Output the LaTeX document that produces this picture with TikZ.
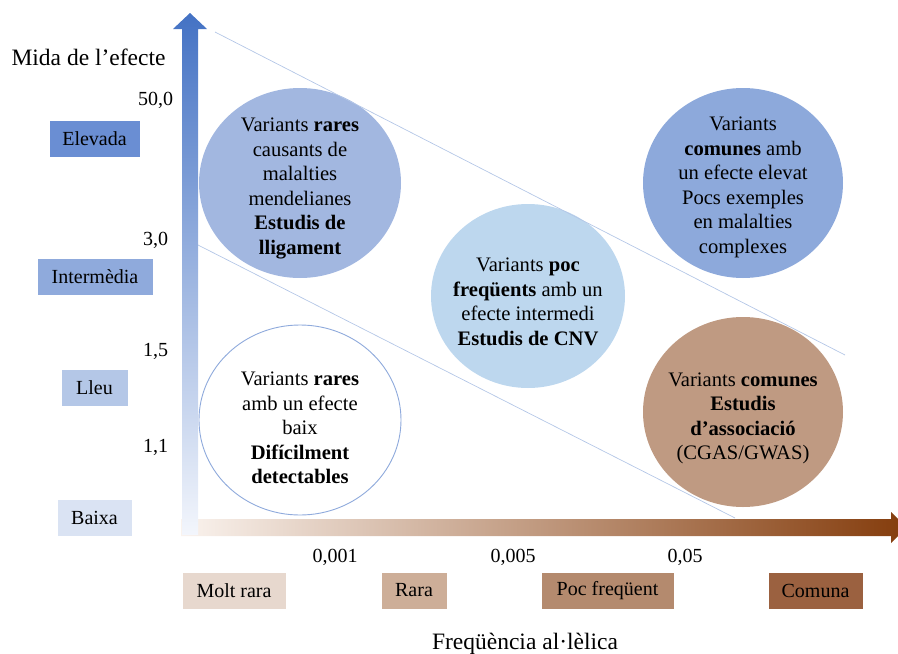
\documentclass[tikz,border=0pt]{standalone}
\usepackage{fontspec}
\setmainfont{Liberation Serif}
\definecolor{arrowblue}{HTML}{4472C4}
\definecolor{arrowbluelight}{HTML}{F3F6FC}
\definecolor{arrowbrown}{HTML}{843C0C}
\definecolor{arrowbrownlight}{HTML}{FAF3EE}
\definecolor{cElevada}{HTML}{6A8ED3}
\definecolor{cInter}{HTML}{8FAADC}
\definecolor{cLleu}{HTML}{B4C7E7}
\definecolor{cBaixa}{HTML}{DAE3F3}
\definecolor{cMolt}{HTML}{E7D8CE}
\definecolor{cRara}{HTML}{CDAE98}
\definecolor{cPoc}{HTML}{B48A6E}
\definecolor{cComuna}{HTML}{9B6140}
\definecolor{bTL}{HTML}{A2B7E0}
\definecolor{bTR}{HTML}{8DA9DB}
\definecolor{bMid}{HTML}{BDD7EE}
\definecolor{bBR}{HTML}{BF9A82}
\definecolor{bOutline}{HTML}{8FAADC}
\definecolor{diag}{HTML}{B4C7E7}
\begin{document}
\begin{tikzpicture}[x=1pt,y=-1pt,
  txt/.style={inner sep=0pt, font=\fontsize{20}{24.5}\selectfont},
  ttl/.style={inner sep=0pt, font=\fontsize{23.5}{28}\selectfont},
  ctext/.style={inner sep=0pt, align=center, font=\fontsize{20.6}{24.5}\selectfont},
  lvlbox/.style={rectangle, draw=white, line width=0.6pt, inner sep=0pt,
    minimum height=37pt, font=\fontsize{20}{24.5}\selectfont},
  diagline/.style={draw=diag, line width=0.7pt}
]
\useasboundingbox (0,0) rectangle (898,654);
\clip (0,0) rectangle (898,654);

% horizontal arrow (frequency)
\shade[left color=arrowbrownlight, right color=arrowbrown]
  (181,519) -- (891,519) -- (891,512) -- (907,527.5) -- (891,543) -- (891,536) -- (181,536) -- cycle;
% vertical arrow (effect size)
\shade[top color=arrowblue, bottom color=arrowbluelight]
  (182,535) -- (182,29) -- (173,29) -- (190,13) -- (207,29) -- (198,29) -- (198,535) -- cycle;

% axis titles
\node[ttl] (ytitle) at (88.5,57) {Mida de l’efecte};
\node[ttl] (xtitle) at (525,644) {Freqüència al·lèlica};

% y tick labels
\node[txt] (y50) at (155.5,100) {50,0};
\node[txt] (y30) at (155.5,240) {3,0};
\node[txt] (y15) at (155.5,351) {1,5};
\node[txt] (y11) at (155.5,447) {1,1};

% x tick labels
\node[txt] (x001) at (335,557) {0,001};
\node[txt] (x005) at (513,557) {0,005};
\node[txt] (x05) at (685,557) {0,05};

% effect level boxes
\node[lvlbox, fill=cElevada, minimum width=91pt] (elevada) at (94.5,138.5) {Elevada};
\node[lvlbox, fill=cInter, minimum width=116pt] (inter) at (95,276.5) {Intermèdia};
\node[lvlbox, fill=cLleu, minimum width=67pt] (lleu) at (94.5,387.5) {Lleu};
\node[lvlbox, fill=cBaixa, minimum width=75pt] (baixa) at (94.5,517.5) {Baixa};

% frequency boxes
\node[lvlbox, fill=cMolt, minimum width=104pt] (moltrara) at (234,590.5) {Molt rara};
\node[lvlbox, fill=cRara, minimum width=66pt] (rara) at (414,590.5) {Rara};
\node[lvlbox, fill=cPoc, minimum width=133pt] (poc) at (607.5,590.5) {Poc freqüent};
\node[lvlbox, fill=cComuna, minimum width=95pt] (comuna) at (815.5,590.5) {Comuna};

% bubbles
\fill[bTL] (300,183) ellipse [x radius=101pt, y radius=95pt];
\fill[bTR] (743,183) ellipse [x radius=100pt, y radius=95pt];
\fill[bMid] (528,296) ellipse [x radius=97pt, y radius=92pt];
\filldraw[fill=white, draw=bOutline, line width=0.9pt] (300,420) ellipse [x radius=101pt, y radius=95pt];
\fill[bBR] (743,412) ellipse [x radius=100pt, y radius=95pt];

% diagonal guide lines
\coordinate (d1a) at (215,32);
\coordinate (d1b) at (845,355);
\coordinate (d2a) at (198,245);
\coordinate (d2b) at (735,518);
\draw[diagline] (d1a) -- (d1b);
\draw[diagline] (d2a) -- (d2b);

% bubble texts
\node[ctext] (tTL) at (300,188.5) {Variants \textbf{rares}\\causants de\\malalties\\mendelianes\\\textbf{Estudis de}\\\textbf{lligament}};
\node[ctext] (tTR) at (743,187.5) {Variants\\\textbf{comunes} amb\\un efecte elevat\\Pocs exemples\\en malalties\\complexes};
\node[ctext] (tMid) at (528,302) {Variants \textbf{poc}\\\textbf{freqüents} amb un\\efecte intermedi\\\textbf{Estudis de CNV}};
\node[ctext] (tBL) at (300,428) {Variants \textbf{rares}\\amb un efecte\\baix\\\textbf{Difícilment}\\\textbf{detectables}};
\node[ctext] (tBR) at (743,418.5) {Variants \textbf{comunes}\\\textbf{Estudis}\\\textbf{d’associació}\\(CGAS/GWAS)};
\end{tikzpicture}
\end{document}
